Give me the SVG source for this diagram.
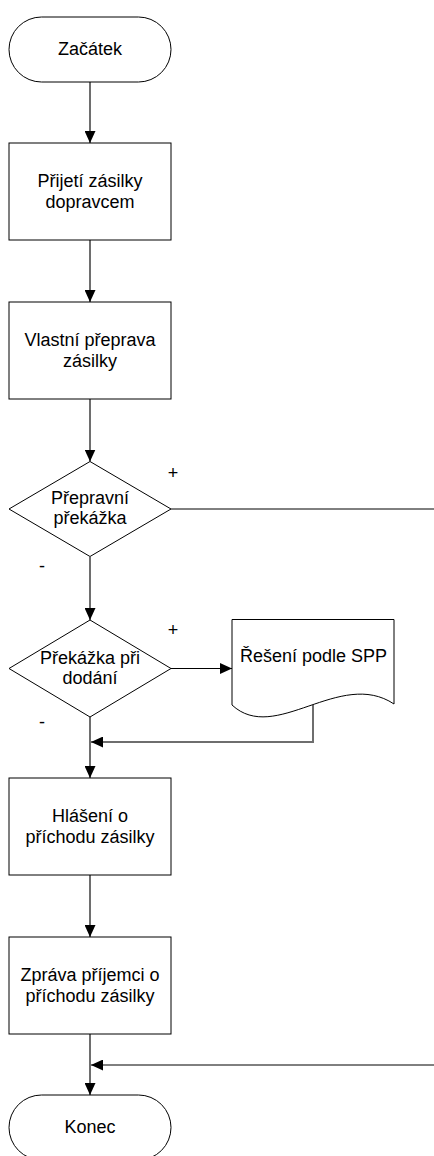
<svg xmlns="http://www.w3.org/2000/svg" width="434" height="1156" viewBox="0 0 434 1156">
  <style>
    .shape { fill: #ffffff; stroke: #000000; stroke-width: 1; }
    .label { font-family: "Liberation Sans", Arial, sans-serif; font-size: 18px; fill: #000000; text-anchor: middle; }
    .flow { fill: none; stroke: #6e6e6e; stroke-width: 2; }
    .thin { fill: none; stroke: #000000; stroke-width: 1; }
  </style>
  <defs>
    <marker id="arrow" viewBox="0 0 12 11" refX="12" refY="5.5" markerWidth="12" markerHeight="11" markerUnits="userSpaceOnUse" orient="auto">
      <path d="M0,0 L12,5.5 L0,11 Z" fill="#000000"/>
    </marker>
  </defs>
  <rect width="434" height="1156" fill="#ffffff"/>

  <!-- connectors -->
  <g id="connectors">
    <path class="flow" d="M90,82 V143" marker-end="url(#arrow)"/>
    <path class="flow" d="M90,240 V302" marker-end="url(#arrow)"/>
    <path class="flow" d="M90,399 V461.5" marker-end="url(#arrow)"/>
    <path class="thin" d="M171,509 H434"/>
    <path class="flow" d="M90,557 V620" marker-end="url(#arrow)"/>
    <path class="thin" d="M171,668.5 H232" marker-end="url(#arrow)"/>
    <path class="flow" d="M313,705 V742 H91" marker-end="url(#arrow)"/>
    <path class="flow" d="M90,717 V778" marker-end="url(#arrow)"/>
    <path class="flow" d="M90,875 V937" marker-end="url(#arrow)"/>
    <path class="flow" d="M90,1034 V1095" marker-end="url(#arrow)"/>
    <path class="thin" d="M434,1065 H91" marker-end="url(#arrow)"/>
    <text class="label" x="173" y="479">+</text>
    <text class="label" x="42" y="572">-</text>
    <text class="label" x="173" y="636">+</text>
    <text class="label" x="42" y="728">-</text>
  </g>

  <g id="start">
    <rect class="shape" x="9" y="17" width="162" height="65" rx="32.5" ry="32.5"/>
    <text class="label" x="90" y="55">Začátek</text>
  </g>

  <g id="receive">
    <rect class="shape" x="9" y="143" width="162" height="97"/>
    <text class="label" x="90" y="187">Přijetí zásilky</text>
    <text class="label" x="90" y="208">dopravcem</text>
  </g>

  <g id="transport">
    <rect class="shape" x="9" y="302" width="162" height="97"/>
    <text class="label" x="90" y="345.5">Vlastní přeprava</text>
    <text class="label" x="90" y="366.5">zásilky</text>
  </g>

  <g id="obstacle-transport">
    <path class="shape" d="M90,461.5 L171,509 L90,556.5 L9,509 Z"/>
    <text class="label" x="90" y="503.5">Přepravní</text>
    <text class="label" x="90" y="524">překážka</text>
  </g>

  <g id="obstacle-delivery">
    <path class="shape" d="M90,620 L171,668.5 L90,717 L9,668.5 Z"/>
    <text class="label" x="90" y="663.5">Překážka při</text>
    <text class="label" x="90" y="684">dodání</text>
  </g>

  <g id="spp">
    <path class="shape" d="M232,619.5 H394 V704 C340,668 275,745 232,705 Z"/>
    <text class="label" x="313.5" y="661.5">Řešení podle SPP</text>
  </g>

  <g id="arrival-report">
    <rect class="shape" x="9" y="778" width="162" height="97"/>
    <text class="label" x="90" y="822">Hlášení o</text>
    <text class="label" x="90" y="843">příchodu zásilky</text>
  </g>

  <g id="recipient-notice">
    <rect class="shape" x="9" y="937" width="162" height="97"/>
    <text class="label" x="90" y="981">Zpráva příjemci o</text>
    <text class="label" x="90" y="1002">příchodu zásilky</text>
  </g>

  <g id="end">
    <rect class="shape" x="9" y="1095" width="162" height="65" rx="32.5" ry="32.5"/>
    <text class="label" x="90" y="1133">Konec</text>
  </g>
</svg>
